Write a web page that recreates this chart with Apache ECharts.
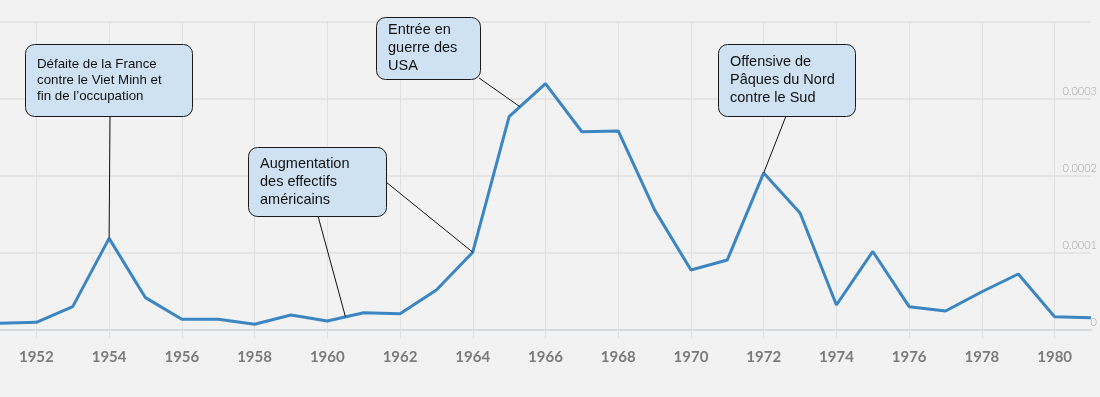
<!DOCTYPE html>
<html>
<head>
<meta charset="utf-8">
<script src="https://cdn.jsdelivr.net/npm/echarts@6/dist/echarts.min.js"></script>
<style>
  html, body { margin: 0; padding: 0; background: #f2f2f2; }
  #chart { width: 1100px; height: 397px; }
</style>
</head>
<body>
<div id="chart"></div>
<script>
// years on the x axis
const years = ['1951', '1952', '1953', '1954', '1955', '1956', '1957', '1958', '1959', '1960',
  '1961', '1962', '1963', '1964', '1965', '1966', '1967', '1968', '1969', '1970',
  '1971', '1972', '1973', '1974', '1975', '1976', '1977', '1978', '1979', '1980', '1981']

// word frequency per year
const frequency = [0.0000087, 0.0000100, 0.0000303, 0.000119, 0.000042, 0.0000139, 0.0000139, 0.0000074, 0.0000195, 0.0000117,
  0.0000225, 0.0000212, 0.000052, 0.000101, 0.000277, 0.000320, 0.0002575, 0.0002585, 0.000156, 0.000078,
  0.000091, 0.000204, 0.000152, 0.0000325, 0.000102, 0.0000303, 0.0000247, 0.0000497, 0.0000727, 0.0000173, 0.000016]

// right axis ticks
const yTicks = [0, 0.0001, 0.0002, 0.0003, 0.0004]

// callout texts and the year (index, may be fractional) each leader points to
const notes = [
  'Défaite de la France\ncontre le Viet Minh et\nfin de l\u2019occupation',
  'Augmentation\ndes effectifs\naméricains',
  'Entrée en\nguerre des\nUSA',
  'Offensive de\nPâques du Nord\ncontre le Sud',
]
const leaderTargets = [[0, 3], [1, 9.5], [1, 13], [2, 14.3], [3, 21]] // [note, year index]

// box layout (pixels)
const boxes = [
  { x: 25, y: 44, w: 167, h: 72, size: 13.3, lh: 16, tx: 37, ty: 56 },
  { x: 248, y: 147, w: 138, h: 69, size: 14.5, lh: 18, tx: 260, ty: 155 },
  { x: 376, y: 17, w: 104, h: 62, size: 14.5, lh: 18, tx: 388, ty: 21 },
  { x: 718, y: 44, w: 137, h: 72, size: 14.5, lh: 18, tx: 730, ty: 53 },
]
const leaderStarts = [[110, 116], [318, 216], [386, 182], [479, 78], [786, 116]]

const gridColor = '#dfe1e3'
const isEven = (idx, val) => Number(val) % 2 === 0

const chart = echarts.init(document.getElementById('chart'))
chart.setOption({
  backgroundColor: '#f2f2f2',
  animation: false,
  grid: { left: 0, right: 8, top: 22, bottom: 67 },
  xAxis: {
    type: 'category',
    data: years,
    boundaryGap: false,
    axisLine: { lineStyle: { color: '#d3dae1', width: 2 } },
    axisTick: { interval: isEven, length: 8, lineStyle: { color: gridColor } },
    axisLabel: {
      interval: isEven,
      margin: 20,
      color: '#7b7b7b',
      fontFamily: '"Liberation Sans Narrow", Lato, sans-serif',
      fontSize: 15,
      fontWeight: 'bold',
    },
    splitLine: { show: true, interval: isEven, lineStyle: { color: gridColor } },
  },
  yAxis: {
    type: 'value',
    position: 'right',
    min: yTicks[0],
    max: yTicks[yTicks.length - 1],
    interval: yTicks[1] - yTicks[0],
    axisLine: { show: false },
    axisTick: { show: false },
    axisLabel: {
      inside: true,
      margin: -6,
      verticalAlign: 'bottom',
      padding: [0, 0, 2, 0],
      color: '#a8a8a8',
      fontFamily: 'Lato',
      fontWeight: 300,
      fontSize: 11,
      formatter: (v) => (v === 0 ? '0' : v >= yTicks[yTicks.length - 1] ? '' : v.toFixed(4)),
    },
    splitLine: { lineStyle: { color: gridColor, width: 1.5 } },
  },
  series: [{
    type: 'line',
    data: frequency,
    showSymbol: false,
    lineStyle: { color: '#3b86c2', width: 3 },
  }],
})

// pixel of a (possibly fractional) year index on the line
function pointAt (pos) {
  const i = Math.floor(pos)
  const t = pos - i
  const a = chart.convertToPixel({ gridIndex: 0 }, [i, frequency[i]])
  if (t === 0) return a
  const b = chart.convertToPixel({ gridIndex: 0 }, [i + 1, frequency[i + 1]])
  return [a[0] + (b[0] - a[0]) * t, a[1] + (b[1] - a[1]) * t]
}

const graphic = []
leaderTargets.forEach(([, pos], k) => {
  const end = pointAt(pos)
  graphic.push({
    type: 'line',
    z: 100,
    shape: { x1: leaderStarts[k][0], y1: leaderStarts[k][1], x2: end[0], y2: end[1] },
    style: { stroke: '#111', lineWidth: 1 },
  })
})
notes.forEach((text, k) => {
  const b = boxes[k]
  graphic.push({
    type: 'rect',
    z: 101,
    shape: { x: b.x + 0.5, y: b.y + 0.5, width: b.w, height: b.h, r: 9 },
    style: { fill: '#cfe2f3', stroke: '#1a1a1a', lineWidth: 1 },
  })
  graphic.push({
    type: 'text',
    z: 102,
    style: {
      x: b.tx,
      y: b.ty,
      text,
      fill: '#111',
      font: `${b.size}px "Liberation Sans", Arial, sans-serif`,
      lineHeight: b.lh,
      verticalAlign: 'top',
    },
  })
})
chart.setOption({ graphic })
</script>
</body>
</html>
